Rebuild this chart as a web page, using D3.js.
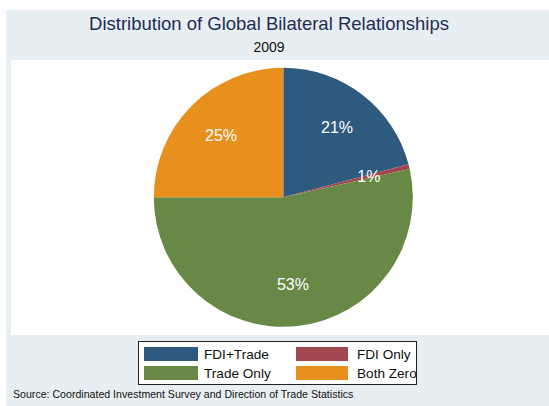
<!DOCTYPE html>
<html>
<head>
<meta charset="utf-8">
<script src="https://cdn.jsdelivr.net/npm/d3@7"></script>
<style>
  body { margin: 0; background: #fff; }
  svg { display: block; font-family: "Liberation Sans", Arial, sans-serif; }
</style>
</head>
<body>
<div id="chartDivId"></div>
<script>
// Data
const categories = ["FDI+Trade", "FDI Only", "Trade Only", "Both Zero"];
const shares = [20.9, 0.6, 53.5, 25.0];
const sliceLabels = ["21%", "1%", "53%", "25%"];
const colors = ["#2f5a7f", "#a1474f", "#688845", "#e8901d"];

const width = 549, height = 406;
const center = { x: 283.3, y: 197.3 };
const radius = 129.5;

var svg = d3.select("#chartDivId")
    .append("svg")
    .attr("width", width)
    .attr("height", height);

// Graph background and plot region
svg.append("rect")
    .attr("x", 6).attr("y", 10)
    .attr("width", width - 6).attr("height", height - 10)
    .style("fill", "#e8eff2");

svg.append("rect")
    .attr("x", 11).attr("y", 60)
    .attr("width", width - 11).attr("height", 275)
    .style("fill", "#ffffff");

// Titles
svg.append("text")
    .attr("x", 269).attr("y", 30)
    .attr("text-anchor", "middle")
    .style("font-size", "18.5px")
    .style("fill", "#1e2c56")
    .text("Distribution of Global Bilateral Relationships");

svg.append("text")
    .attr("x", 269).attr("y", 52)
    .attr("text-anchor", "middle")
    .style("font-size", "14px")
    .style("fill", "#111")
    .text("2009");

// Pie (clockwise from 12 o'clock)
var pie = d3.pie().sort(null).value(function(d) { return d; });
var arc = d3.arc().innerRadius(0).outerRadius(radius);
var labelArc = d3.arc().innerRadius(radius * 0.68).outerRadius(radius * 0.68);

var g = svg.append("g")
    .attr("transform", "translate(" + center.x + "," + center.y + ")");

var arcs = pie(shares);

g.selectAll("path.slice")
    .data(arcs)
    .enter().append("path")
    .attr("class", "slice")
    .attr("d", arc)
    .style("fill", function(d, i) { return colors[i]; });

g.selectAll("text.pct")
    .data(arcs)
    .enter().append("text")
    .attr("class", "pct")
    .attr("transform", function(d) { return "translate(" + labelArc.centroid(d) + ")"; })
    .attr("text-anchor", "middle")
    .attr("dy", "0.35em")
    .style("font-size", "16px")
    .style("fill", "#ffffff")
    .text(function(d, i) { return sliceLabels[i]; });

// Legend
var legend = svg.append("g").attr("transform", "translate(138.5,341.5)");
legend.append("rect")
    .attr("width", 278).attr("height", 43)
    .style("fill", "#ffffff")
    .style("stroke", "#222")
    .style("stroke-width", 1);

var order = [0, 1, 2, 3];
var items = legend.selectAll("g.item")
    .data(order)
    .enter().append("g")
    .attr("class", "item")
    .attr("transform", function(d, i) {
        return "translate(" + (i % 2 === 0 ? 5.5 : 157.5) + "," + (i < 2 ? 5.5 : 24.5) + ")";
    });

items.append("rect")
    .attr("width", function(d, i) { return i % 2 === 0 ? 54 : 52; })
    .attr("height", 14)
    .style("fill", function(d) { return colors[d]; });

items.append("text")
    .attr("x", function(d, i) { return i % 2 === 0 ? 60 : 61; })
    .attr("y", 12)
    .style("font-size", "13.6px")
    .style("fill", "#111")
    .text(function(d) { return categories[d]; });

// Note
svg.append("text")
    .attr("x", 13).attr("y", 398)
    .style("font-size", "10.6px")
    .style("fill", "#111")
    .text("Source: Coordinated Investment Survey and Direction of Trade Statistics");
</script>
</body>
</html>
